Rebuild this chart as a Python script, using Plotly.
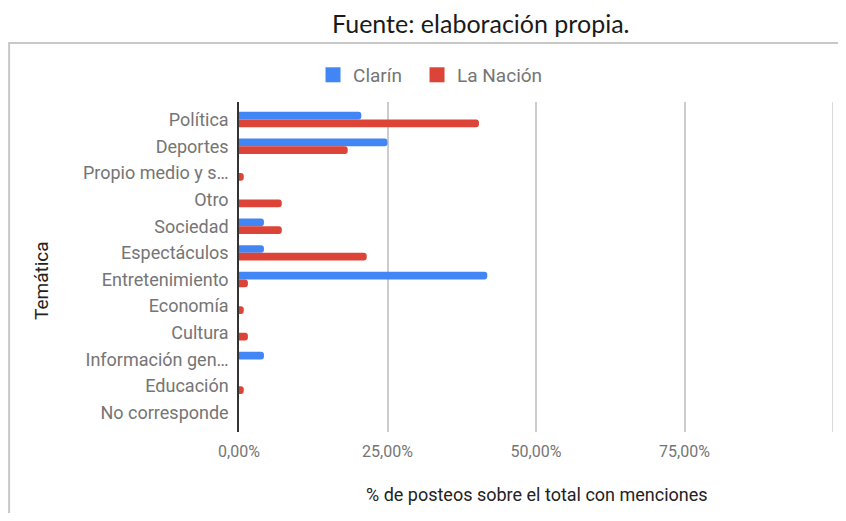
import plotly.graph_objects as go

categorias = ["Política", "Deportes", "Propio medio y s…", "Otro", "Sociedad",
              "Espectáculos", "Entretenimiento", "Economía", "Cultura",
              "Información gen…", "Educación", "No corresponde"]
clarin = [0.206, 0.250, 0.0, 0.0, 0.042, 0.042, 0.418, 0.0, 0.0, 0.042, 0.0, 0.0]
la_nacion = [0.404, 0.183, 0.008, 0.072, 0.072, 0.215, 0.015, 0.008, 0.015, 0.0, 0.008, 0.0]

tick_vals = [0, 0.25, 0.5, 0.75, 1.0]
tick_text = ["0,00%", "25,00%", "50,00%", "75,00%", ""]

AZUL = "#4285F4"
ROJO = "#DB4437"

fig = go.Figure()
fig.add_trace(go.Bar(y=categorias, x=clarin, name="Clarín", orientation="h",
                     marker=dict(color=AZUL, line=dict(width=0)), showlegend=False))
fig.add_trace(go.Bar(y=categorias, x=la_nacion, name="La Nación", orientation="h",
                     marker=dict(color=ROJO, line=dict(width=0)), showlegend=False))

# legend entries with bigger square swatches (Google Sheets style), one legend each
for nombre, color, leg in [("Clarín", AZUL, "legend"), ("La Nación", ROJO, "legend2")]:
    fig.add_trace(go.Scatter(x=[None], y=[None], mode="markers", name=nombre, legend=leg,
                             marker=dict(symbol="square", size=15, color=color)))

# chart border box (like the screenshot of the spreadsheet chart)
fig.add_shape(type="rect", xref="paper", yref="paper",
              x0=-0.387, x1=1.1, y0=-0.4, y1=1.179,
              line=dict(color="#c8c8c8", width=2), layer="below")

# gridline at 100% (plotly skips it at the range edge)
fig.add_shape(type="line", xref="x", yref="paper", x0=1.0, x1=1.0, y0=0, y1=1,
              line=dict(color="#cccccc", width=1.5), layer="below")

fig.add_annotation(text="Fuente: elaboración propia.", xref="paper", yref="paper",
                   x=0.407, y=1.239, xanchor="center", yanchor="middle", showarrow=False,
                   font=dict(family="Lato, Noto Sans", size=25, color="#1a1a1a"))

fig.add_annotation(text="Temática", xref="paper", yref="paper", textangle=-90,
                   x=-0.3316, y=0.4576, xanchor="center", yanchor="middle", showarrow=False,
                   font=dict(family="Roboto", size=19, color="#222222"))

fig.add_annotation(text="% de posteos sobre el total con menciones", xref="paper", yref="paper",
                   x=0.5017, y=-0.188, xanchor="center", yanchor="middle", showarrow=False,
                   font=dict(family="Roboto", size=18, color="#222222"))

fig.update_xaxes(range=[0, 1.0], tickvals=tick_vals, ticktext=tick_text,
                 showgrid=True, gridcolor="#cccccc", gridwidth=1.5,
                 zeroline=False, showline=False, ticklabelstandoff=8,
                 tickfont=dict(family="Roboto", size=16, color="#757575"))
fig.update_yaxes(range=[11.72, -0.66], showline=True, linecolor="#333333", linewidth=1.5,
                 ticks="", ticklabelstandoff=5,
                 tickfont=dict(family="Roboto", size=18, color="#757575"))

leyenda = dict(orientation="h", xanchor="left", y=1.082, yanchor="middle",
               font=dict(family="Roboto", size=19, color="#757575"), itemwidth=30)

fig.update_layout(
    width=830, height=505,
    margin=dict(l=231, r=5, t=94, b=81),
    barmode="group", bargap=0.42, bargroupgap=0.0, barcornerradius=4,
    plot_bgcolor="white", paper_bgcolor="white",
    legend=dict(leyenda, x=0.1246),
    legend2=dict(leyenda, x=0.2997),
    showlegend=True,
)

fig.write_html("out.html")
